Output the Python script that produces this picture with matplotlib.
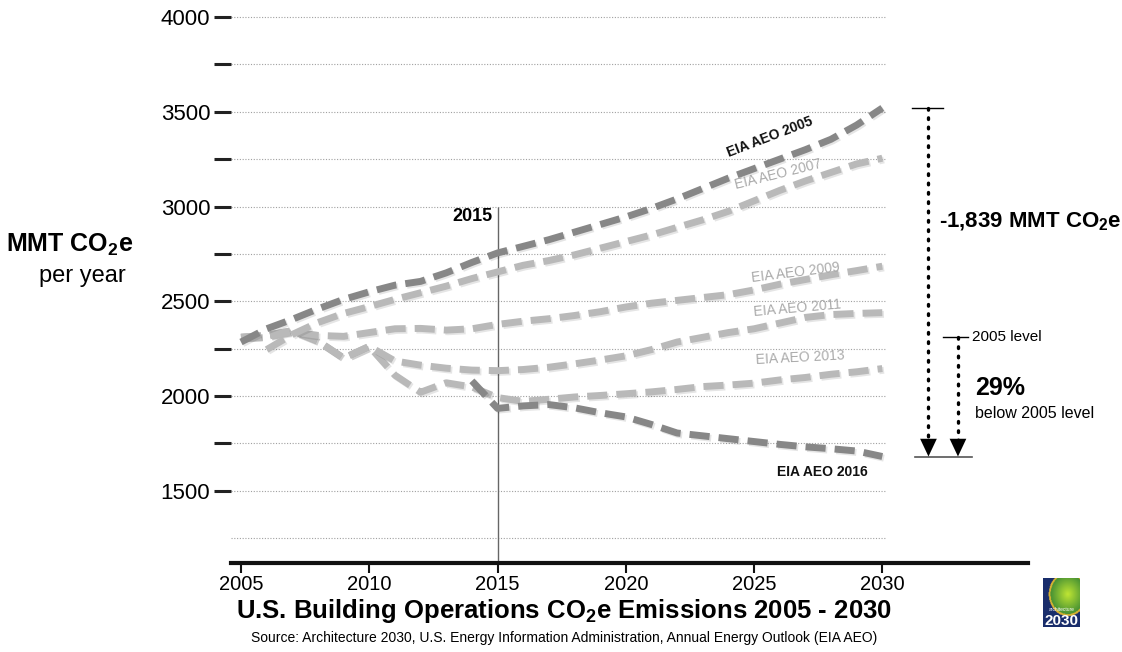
import numpy as np
import matplotlib.pyplot as plt
import matplotlib.patheffects as pe

plt.rcParams['font.family'] = ['Liberation Sans', 'DejaVu Sans']
plt.rcParams['mathtext.fontset'] = 'custom'
plt.rcParams['mathtext.rm'] = 'Liberation Sans'
plt.rcParams['mathtext.bf'] = 'Liberation Sans:bold'

NARROW = ['Liberation Sans Narrow', 'Liberation Sans']

# AEO projections, MMT CO2e per year
years_2005 = list(range(2005, 2031))
aeo2005 = [2285, 2355, 2405, 2460, 2510, 2550, 2585, 2605, 2650, 2705, 2755, 2790, 2825,
           2865, 2905, 2945, 2990, 3040, 3095, 3150, 3200, 3250, 3300, 3355, 3430, 3520]

years_2007 = list(range(2006, 2031))
aeo2007 = [2245, 2325, 2388, 2436, 2472, 2510, 2545, 2580, 2620, 2655, 2690, 2715, 2745,
           2780, 2815, 2850, 2890, 2930, 2975, 3030, 3085, 3135, 3180, 3225, 3255]

years_2009 = list(range(2005, 2031))
aeo2009 = [2310, 2315, 2340, 2320, 2315, 2335, 2355, 2357, 2348, 2355, 2378, 2395, 2408,
           2425, 2445, 2470, 2490, 2505, 2520, 2535, 2560, 2590, 2615, 2640, 2662, 2685]

years_2011 = list(range(2005, 2031))
aeo2011 = [2310, 2320, 2345, 2290, 2200, 2262, 2185, 2163, 2147, 2137, 2134, 2140, 2152,
           2170, 2190, 2212, 2245, 2285, 2310, 2335, 2355, 2385, 2415, 2430, 2436, 2440]

years_2013 = list(range(2005, 2031))
aeo2013 = [2310, 2320, 2345, 2290, 2200, 2262, 2110, 2020, 2070, 2048, 1992, 1972, 1983,
           1995, 2003, 2012, 2022, 2035, 2050, 2058, 2068, 2085, 2098, 2115, 2128, 2145]

years_2016 = list(range(2014, 2031))
aeo2016 = [2080, 1935, 1948, 1955, 1938, 1912, 1890, 1850, 1805, 1790, 1775, 1760, 1745,
           1732, 1722, 1710, 1681]

level_2005 = 2310
x_ticks = [2005, 2010, 2015, 2020, 2025, 2030]
y_major = [1500, 2000, 2500, 3000, 3500, 4000]
y_minor = [1750, 2250, 2750, 3250, 3750]
grid_levels = [1250] + sorted(y_major + y_minor)

DARK = '#878787'
LIGHT = '#b9b9b9'

fig = plt.figure(figsize=(11.22, 6.52), dpi=100)
ax = fig.add_axes([231 / 1122, 89 / 652, 797 / 1122, 563 / 652])
ax.set_xlim(2004.61, 2035.68)
ax.set_ylim(1119, 4090)

for s in ['left', 'top', 'right']:
    ax.spines[s].set_visible(False)
ax.spines['bottom'].set_linewidth(3)
ax.spines['bottom'].set_color('#111111')

ax.hlines(grid_levels, 2004.61, 2030.1, colors='#a0a0a0', linestyles=(0, (1, 1.5)), lw=0.8, zorder=1)

ax.set_yticks(y_major)
ax.set_yticks(y_minor, minor=True)
ax.tick_params(axis='y', which='both', length=12, width=2.2, color='#222222', pad=3, labelsize=16)
ax.set_xticks(x_ticks)
ax.tick_params(axis='x', length=7, width=1.5, color='#111111', pad=1.5, labelsize=14.5)
for lbl in ax.get_xticklabels():
    lbl.set_fontfamily(NARROW)

# 2015 marker line
ax.vlines(2015, 1119, 3000, colors='#666666', lw=1, zorder=2)
ax.text(2014.8, 2950, '2015', ha='right', va='center', fontsize=13, fontweight='bold')

shadow = [pe.SimpleLineShadow(offset=(1.2, -1.2), shadow_color='k', alpha=0.1), pe.Normal()]
style = dict(lw=5, linestyle=(0, (2.9, 1.3)), dash_capstyle='butt', path_effects=shadow, zorder=3)

ax.plot(years_2013, aeo2013, color=LIGHT, **style)
ax.plot(years_2011, aeo2011, color=LIGHT, **style)
ax.plot(years_2009, aeo2009, color=LIGHT, **style)
ax.plot(years_2007, aeo2007, color=LIGHT, **style)
ax.plot(years_2005, aeo2005, color=DARK, **style)
ax.plot(years_2016, aeo2016, color=DARK, **style)

lab = dict(ha='center', va='center', fontsize=10, rotation_mode='anchor')
ax.text(2025.62, 3367, 'EIA AEO 2005', rotation=21, fontweight='bold', color='#111111', **lab)
ax.text(2025.95, 3170, 'EIA AEO 2007', rotation=14, color='#aaaaaa', **lab)
ax.text(2026.64, 2654, 'EIA AEO 2009', rotation=7, color='#aaaaaa', **lab)
ax.text(2026.70, 2464, 'EIA AEO 2011', rotation=5, color='#aaaaaa', **lab)
ax.text(2026.80, 2200, 'EIA AEO 2013', rotation=3, color='#aaaaaa', **lab)
ax.text(2027.65, 1599, 'EIA AEO 2016', rotation=0, fontweight='bold', color='#111111', **lab)

# reduction arrows on the right
drop_top = aeo2005[-1]
drop_bottom = aeo2016[-1]
x1, x2 = 2031.8, 2032.95
head = 87
dots = dict(color='k', lw=2.4, linestyle=(0, (0.5, 2.3)), dash_capstyle='round')
ax.plot([x1, x1], [drop_top, drop_bottom + head], **dots)
ax.plot([x2, x2], [level_2005, drop_bottom + head], **dots)
for xa in (x1, x2):
    ax.annotate('', xy=(xa, drop_bottom), xytext=(xa, drop_bottom + head),
                arrowprops=dict(arrowstyle='-|>,head_length=0.85,head_width=0.4',
                                color='k', lw=0.01, mutation_scale=15,
                                shrinkA=0, shrinkB=0))
ax.plot([2031.16, 2032.37], [drop_top, drop_top], color='k', lw=1)
ax.plot([2032.37, 2033.34], [level_2005, level_2005], color='k', lw=1)
ax.plot([2031.28, 2033.5], [drop_bottom, drop_bottom], color='#555555', lw=1.2)

ax.text(2032.2, 2918, r'-1,839 MMT CO$_\mathbf{2}$e', fontsize=16, fontweight='bold', va='center')
ax.text(2033.5, level_2005, '2005 level', fontsize=11, va='center')
ax.text(2033.6, 2042, '29%', fontsize=18, fontweight='bold', va='center')
ax.text(2033.6, 1910, 'below 2005 level', fontsize=11.5, va='center')

# axis titles
fig.text(70 / 1122, 1 - 245 / 652, r'MMT CO$_\mathbf{2}$e', fontsize=18, fontweight='bold',
         ha='center', va='center')
fig.text(82 / 1122, 1 - 276 / 652, 'per year', fontsize=17, ha='center', va='center')
fig.text(564 / 1122, 1 - 611 / 652, r'U.S. Building Operations CO$_\mathbf{2}$e Emissions 2005 - 2030',
         fontsize=18.5, fontweight='bold', family=NARROW, ha='center', va='center')
fig.text(564 / 1122, 1 - 638 / 652,
         'Source: Architecture 2030, U.S. Energy Information Administration, Annual Energy Outlook (EIA AEO)',
         fontsize=10, family=NARROW, ha='center', va='center')

# small globe badge in the corner
lax = fig.add_axes([1043 / 1122, 1 - 627 / 652, 37 / 1122, 49 / 652])
gx, gy = np.meshgrid(np.linspace(-1, 1, 60), np.linspace(-1, 1.3, 80))
r = np.sqrt((gx - 0.35) ** 2 + (gy - 0.55) ** 2)
img = np.zeros(gx.shape + (3,))
img[..., 0] = 0.10
img[..., 1] = 0.18
img[..., 2] = 0.42
inside = r < 0.95
img[inside, 0] = 0.25 + 0.5 * (1 - r[inside])
img[inside, 1] = 0.55 + 0.35 * (1 - r[inside])
img[inside, 2] = 0.2
ring = (r >= 0.95) & (r < 1.05)
img[ring] = [0.85, 0.7, 0.2]
lax.imshow(img, origin='lower', extent=[0, 1, 0, 1], aspect='auto')
lax.text(0.5, 0.35, 'architecture', color='white', fontsize=3.5, ha='center', va='center')
lax.text(0.5, 0.12, '2030', color='white', fontsize=11, fontweight='bold', ha='center', va='center',
         family=NARROW)
lax.axis('off')

fig.savefig('out.png', dpi=100)
